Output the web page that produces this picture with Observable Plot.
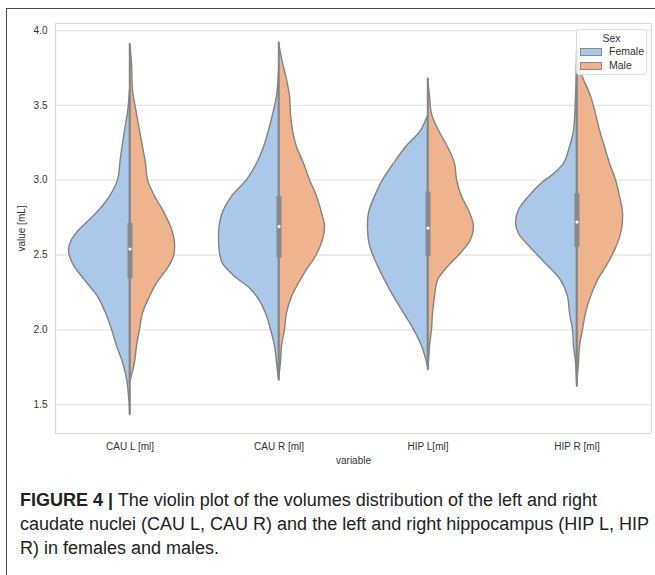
<!DOCTYPE html>
<html>
<head>
<meta charset="utf-8">
<script src="https://cdn.jsdelivr.net/npm/d3@7"></script>
<script src="https://cdn.jsdelivr.net/npm/@observablehq/plot@0.6"></script>
<style>
  html, body { margin: 0; padding: 0; background: #fff; }
  #page { position: relative; width: 655px; height: 575px; overflow: hidden; background: #fff; }
  #frame { position: absolute; left: 6px; top: 8px; right: -10px; bottom: -10px;
           border-left: 1.5px solid #4a4a4a; border-top: 1.5px solid #4a4a4a; }
  #chart { position: absolute; left: 0; top: 0; }
  #legend { position: absolute; left: 576px; top: 29px; width: 69px; height: 44px;
            background: rgba(255,255,255,0.85); border: 1px solid #dcdcdc; border-radius: 3px;
            font-family: "Liberation Sans", Arial, sans-serif; font-size: 10.5px; color: #333; }
  #legend .title { position: absolute; left: 0; width: 100%; top: 2px; text-align: center; }
  #legend .row { position: absolute; left: 3px; height: 12px; }
  #legend .sw { position: absolute; left: 0; top: 3px; width: 20px; height: 6px; border: 0.8px solid #8a8a8a; }
  #legend .lab { position: absolute; left: 29px; top: 0; white-space: nowrap; }
  #caption { position: absolute; left: 20px; top: 488px; width: 640px;
             font-family: "Liberation Sans", Arial, sans-serif; font-size: 18px; line-height: 24px; color: #222; }
  #caption div { white-space: nowrap; }
</style>
</head>
<body>
<div id="page">
  <div id="frame"></div>
  <div id="chart"></div>
  <div id="legend"></div>
  <div id="caption">
    <div><b>FIGURE 4 |</b> The violin plot of the volumes distribution of the left and right</div>
    <div>caudate nuclei (CAU L, CAU R) and the left and right hippocampus (HIP L, HIP</div>
    <div>R) in females and males.</div>
  </div>
</div>
<script>
// ---- categories and groups ----
const categories = ["CAU L [ml]", "CAU R [ml]", "HIP L[ml]", "HIP R [ml]"];
const sexes = ["Female", "Male"];
const sexColors = ["#a9c8ea", "#efb48e"];
const yTicks = [1.5, 2.0, 2.5, 3.0, 3.5, 4.0];

// ---- density profiles: [value mL, relative density (half width)] ----
const cauLFemale = [[3.60,0],[3.45,2],[3.33,5],[3.15,9],[3.00,12],[2.89,20],[2.78,33],[2.67,50],[2.60,58],[2.53,61],[2.44,57],[2.33,45],[2.22,32],[2.11,24],[2.00,18],[1.89,13],[1.78,7],[1.67,3],[1.56,1],[1.43,0]];
const cauLMale   = [[3.91,0],[3.78,2],[3.60,3],[3.44,7],[3.33,10],[3.22,13],[3.11,16],[3.00,18],[2.89,25],[2.80,33],[2.67,42],[2.58,45],[2.49,44],[2.40,37],[2.31,27],[2.22,20],[2.11,13],[2.00,10],[1.89,7],[1.78,5],[1.64,0]];
const cauRFemale = [[3.73,0],[3.56,2],[3.33,10],[3.22,15],[3.11,22],[3.00,32],[2.89,47],[2.80,55],[2.71,59],[2.60,60],[2.51,59],[2.44,56],[2.36,45],[2.27,28],[2.18,18],[2.09,12],[2.00,8],[1.89,4],[1.78,2],[1.66,0]];
const cauRMale   = [[3.92,0],[3.78,4],[3.67,8],[3.56,11],[3.44,12],[3.33,14],[3.22,18],[3.11,25],[3.00,31],[2.89,38],[2.78,43],[2.69,46],[2.60,44],[2.49,37],[2.40,28],[2.31,20],[2.22,13],[2.11,8],[2.00,6],[1.89,3],[1.78,2],[1.67,0]];
const hipLFemale = [[3.43,0],[3.33,7],[3.22,22],[3.11,34],[3.00,45],[2.89,53],[2.78,59],[2.67,60],[2.56,58],[2.44,51],[2.33,43],[2.22,34],[2.11,24],[2.00,14],[1.89,6],[1.78,1],[1.75,0]];
const hipLMale   = [[3.68,0],[3.56,2],[3.44,4],[3.33,11],[3.22,20],[3.11,27],[3.00,29],[2.89,34],[2.78,42],[2.69,46],[2.60,43],[2.51,33],[2.42,20],[2.33,10],[2.22,7],[2.11,5],[2.00,4],[1.89,2],[1.78,1],[1.73,0]];
const hipRFemale = [[3.78,0],[3.56,1],[3.33,3],[3.22,7],[3.11,13],[3.04,23],[2.98,35],[2.89,48],[2.80,58],[2.71,61],[2.64,58],[2.56,48],[2.44,31],[2.33,16],[2.22,9],[2.11,7],[2.00,4],[1.89,3],[1.78,1],[1.64,0]];
const hipRMale   = [[3.86,0],[3.78,1],[3.67,7],[3.56,14],[3.44,19],[3.33,23],[3.22,28],[3.11,33],[3.00,39],[2.89,43],[2.78,46],[2.67,45],[2.56,40],[2.44,31],[2.33,21],[2.22,14],[2.11,9],[2.00,6],[1.89,3],[1.78,2],[1.62,0]];

// ---- inner box statistics per category ----
const q1Values     = [2.34, 2.48, 2.49, 2.55];
const q3Values     = [2.71, 2.89, 2.92, 2.91];
const medianValues = [2.54, 2.69, 2.68, 2.72];
const minValues    = [1.43, 1.66, 1.73, 1.62];
const maxValues    = [3.91, 3.92, 3.68, 3.86];

// ---- tables for the library ----
const femaleProfiles = [cauLFemale, cauRFemale, hipLFemale, hipRFemale];
const maleProfiles   = [cauLMale, cauRMale, hipLMale, hipRMale];
const violinRows = [];
categories.forEach((cat, i) => {
  [[sexes[0], femaleProfiles[i], -1], [sexes[1], maleProfiles[i], 1]].forEach(([sex, prof, side]) => {
    prof.forEach(([v, d]) => violinRows.push({category: cat, sex, value: v, density: side * d}));
  });
});
const stats = categories.map((c, i) => ({
  category: c, q1: q1Values[i], q3: q3Values[i], median: medianValues[i], min: minValues[i], max: maxValues[i]
}));

const xDomain = [-74.5, 74.5];
const yDomain = [1.307, 4.047];
const lineGray = "#838383";

const chart = Plot.plot({
  width: 655,
  height: 470,
  marginLeft: 55,
  marginRight: 4,
  marginTop: 23,
  marginBottom: 37,
  style: {fontFamily: "'Liberation Sans', Arial, sans-serif", fontSize: "10px", color: "#333", background: "transparent"},
  fx: {domain: categories, padding: 0},
  x: {domain: xDomain, axis: null},
  y: {domain: yDomain},
  color: {domain: sexes, range: sexColors},
  marks: [
    Plot.gridY(yTicks, {stroke: "#e6e6e6", strokeOpacity: 1, strokeWidth: 1.3}),
    Plot.ruleY(yDomain, {stroke: "#d9d9d9", strokeWidth: 1.2}),
    Plot.ruleX([{category: categories[0], x: xDomain[0]}, {category: categories[3], x: xDomain[1]}],
               {fx: "category", x: "x", stroke: "#d9d9d9", strokeWidth: 1.2}),
    Plot.areaX(violinRows, {fx: "category", y: "value", x1: 0, x2: "density", z: "sex", fill: "sex",
               stroke: lineGray, strokeWidth: 1.4, curve: "catmull-rom"}),
    Plot.ruleX(stats, {fx: "category", x: 0, y1: "min", y2: "max", stroke: lineGray, strokeWidth: 1.5}),
    Plot.ruleX(stats, {fx: "category", x: 0, y1: "q1", y2: "q3", stroke: "#888888", strokeWidth: 5}),
    Plot.dot(stats, {fx: "category", x: 0, y: "median", r: 1.6, fill: "white", stroke: null}),
    Plot.axisY(yTicks, {tickSize: 0, tickPadding: 8, tickFormat: d3.format(".1f"),
               label: "value [mL]", labelAnchor: "center", labelArrow: "none", labelOffset: 38}),
    Plot.axisFx({anchor: "bottom", tickSize: 0, tickPadding: 9, label: "variable",
                labelAnchor: "center", labelArrow: "none", labelOffset: 30})
  ]
});
document.getElementById("chart").appendChild(chart);

// ---- legend ----
const legend = document.getElementById("legend");
legend.innerHTML = '<div class="title">Sex</div>' + sexes.map((s, i) =>
  `<div class="row" style="top:${15 + i * 14}px"><div class="sw" style="background:${sexColors[i]}"></div><div class="lab">${s}</div></div>`
).join("");
</script>
</body>
</html>
